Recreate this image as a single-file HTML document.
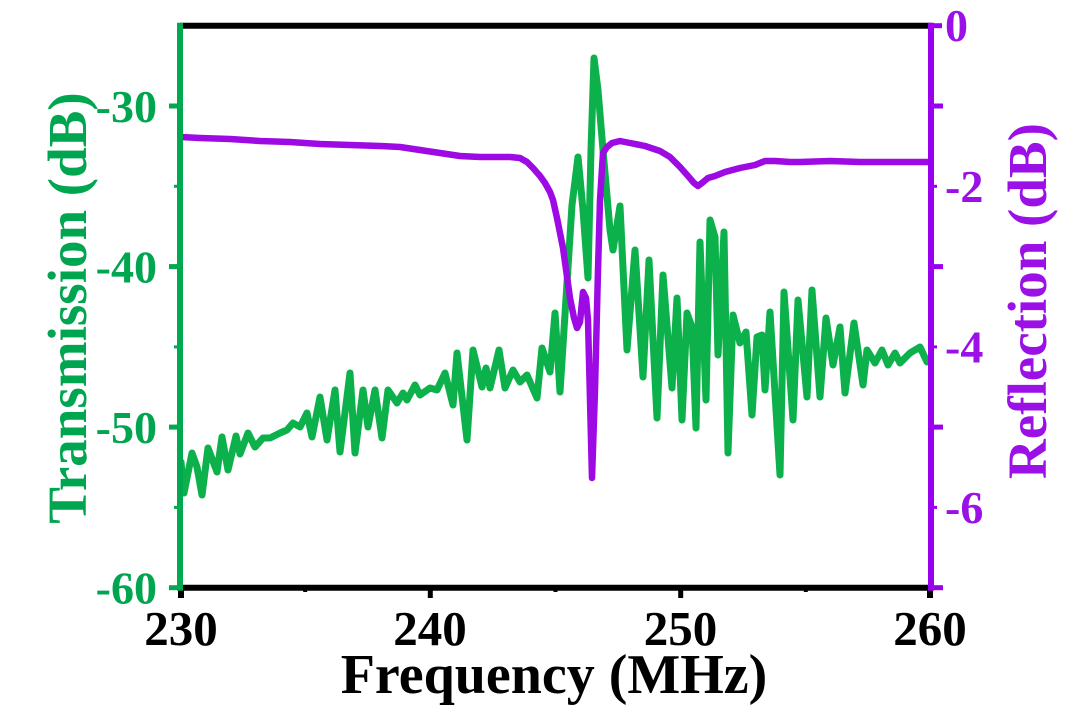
<!DOCTYPE html>
<html>
<head>
<meta charset="utf-8">
<style>
  html,body{margin:0;padding:0;background:#fff;}
  svg{display:block;}
  text{font-family:"Liberation Serif","Times New Roman",serif;font-weight:bold;}
</style>
</head>
<body>
<svg width="1080" height="720" viewBox="0 0 1080 720" xmlns="http://www.w3.org/2000/svg">
  <rect width="1080" height="720" fill="#ffffff"/>

  <!-- Transmission (green) -->
  <polyline fill="none" stroke="#0db14b" stroke-width="7" stroke-linejoin="round" stroke-linecap="round"
    points="181,462 184,493 192,453 197,467 202,495 208,448 217,472 222,437 228,470 236,436 240,454 248,433 255,447 263,438 270,438 280,433 287,430 293,423 300,427 307,413 312,437 320,397 327,440 335,390 340,452 350,373 355,453 363,390 368,427 375,390 382,438 388,390 397,403 403,393 407,400 415,385 420,395 430,388 437,390 445,373 453,405 457,353 467,440 473,350 482,387 486,368 490,388 499,350 505,388 513,370 520,382 527,375 537,398 542,348 550,372 555,313 560,392 567,283 572,205 578,157 583,210 588,278 591,150 594,58 598,90 603,150 610,230 613,250 620,206 627,350 635,250 643,377 649,260 657,418 663,275 672,388 677,298 682,420 687,313 692,327 696,428 700,242 706,400 710,220 715,237 718,355 724,232 728,453 733,315 740,343 746,332 752,415 757,337 762,335 765,390 770,312 780,475 784,292 793,420 798,300 807,397 812,290 820,397 826,318 833,365 840,327 845,393 854,323 863,385 867,350 875,363 882,350 888,365 895,353 900,363 910,353 920,347 927,362"/>

  <!-- Reflection (purple) -->
  <polyline fill="none" stroke="#9d0ae3" stroke-width="6.5" stroke-linejoin="round" stroke-linecap="round"
    points="181,137 200,138 230,139 260,141 290,142 320,144 350,145 380,146 400,147 420,150 440,153 460,156 480,157 500,157 510,157 520,158 527,162 533,168 540,176 545,183 550,192 553,200 557,218 563,248 570,298 574,318 577,328 580,322 583,292 586,298 588,320 590,400 592,478 595,390 598,270 600,200 603,153 607,147 612,143 620,141 630,143 645,146 660,151 670,157 680,167 688,176 694,183 698,186 702,183 708,178 715,176 725,172 740,168 755,165 765,161 775,161 790,162 800,162 830,161 860,162 900,162 929,162"/>

  <!-- Frame: top and bottom black -->
  <line x1="180" y1="25.7" x2="931" y2="25.7" stroke="#000" stroke-width="6"/>
  <line x1="180" y1="587.7" x2="931" y2="587.7" stroke="#000" stroke-width="6"/>

  <!-- X ticks -->
  <g stroke="#000">
    <line x1="181" y1="588" x2="181" y2="598" stroke-width="6"/>
    <line x1="430.3" y1="588" x2="430.3" y2="598" stroke-width="5"/>
    <line x1="680.7" y1="588" x2="680.7" y2="598" stroke-width="5"/>
    <line x1="930" y1="588" x2="930" y2="598" stroke-width="6"/>
    <line x1="305.2" y1="588" x2="305.2" y2="592" stroke-width="4"/>
    <line x1="555.5" y1="588" x2="555.5" y2="592" stroke-width="4"/>
    <line x1="805.8" y1="588" x2="805.8" y2="592" stroke-width="4"/>
  </g>

  <!-- Left axis (green) -->
  <line x1="180" y1="22.7" x2="180" y2="590.7" stroke="#00a84f" stroke-width="6"/>
  <g stroke="#00a84f">
    <line x1="169" y1="106" x2="180" y2="106" stroke-width="5"/>
    <line x1="169" y1="266.6" x2="180" y2="266.6" stroke-width="5"/>
    <line x1="169" y1="427.1" x2="180" y2="427.1" stroke-width="5"/>
    <line x1="169" y1="587.7" x2="180" y2="587.7" stroke-width="5"/>
    <line x1="174" y1="186.3" x2="180" y2="186.3" stroke-width="3"/>
    <line x1="174" y1="346.9" x2="180" y2="346.9" stroke-width="3"/>
    <line x1="174" y1="507.4" x2="180" y2="507.4" stroke-width="3"/>
  </g>

  <!-- Right axis (purple) -->
  <line x1="931" y1="22.7" x2="931" y2="590.7" stroke="#9a00f0" stroke-width="6"/>
  <g stroke="#9a00f0">
    <line x1="931" y1="25.7" x2="942" y2="25.7" stroke-width="5"/>
    <line x1="931" y1="106" x2="943" y2="106" stroke-width="5"/>
    <line x1="931" y1="266.6" x2="943" y2="266.6" stroke-width="5"/>
    <line x1="931" y1="427.1" x2="943" y2="427.1" stroke-width="5"/>
    <line x1="931" y1="587.7" x2="943" y2="587.7" stroke-width="5"/>
    <line x1="931" y1="186.3" x2="937" y2="186.3" stroke-width="3"/>
    <line x1="931" y1="346.9" x2="937" y2="346.9" stroke-width="3"/>
    <line x1="931" y1="507.4" x2="937" y2="507.4" stroke-width="3"/>
  </g>

  <!-- Left tick labels -->
  <g fill="#00a550" font-size="46" text-anchor="end">
    <text x="157" y="122">-30</text>
    <text x="157" y="282.5">-40</text>
    <text x="157" y="443">-50</text>
    <text x="157" y="603.5">-60</text>
  </g>

  <!-- Right tick labels -->
  <g fill="#9a10e6" font-size="46" text-anchor="start">
    <text x="945" y="41">0</text>
    <text x="945" y="202">-2</text>
    <text x="945" y="362.5">-4</text>
    <text x="945" y="523">-6</text>
  </g>

  <!-- X tick labels -->
  <g fill="#000" font-size="49" text-anchor="middle">
    <text x="181" y="645">230</text>
    <text x="430" y="645">240</text>
    <text x="680.5" y="645">250</text>
    <text x="930" y="645">260</text>
  </g>

  <!-- Axis titles -->
  <text x="554" y="693" font-size="56" text-anchor="middle" fill="#000">Frequency (MHz)</text>
  <text transform="translate(86,308) rotate(-90)" font-size="55" text-anchor="middle" fill="#00a550">Transmission (dB)</text>
  <text transform="translate(1046,301) rotate(-90)" font-size="55" text-anchor="middle" fill="#9a10e6">Reflection (dB)</text>
</svg>
</body>
</html>
